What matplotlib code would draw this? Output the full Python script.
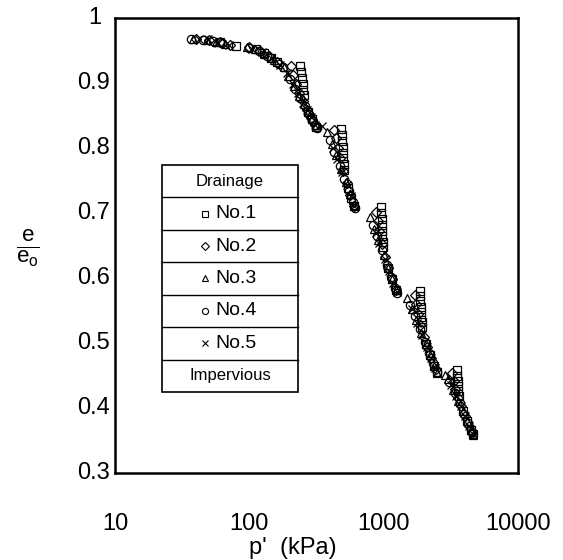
import matplotlib.pyplot as plt
from matplotlib.patches import Rectangle

plt.rcParams['font.family'] = ['Liberation Sans', 'DejaVu Sans']
plt.rcParams['mathtext.fontset'] = 'custom'
plt.rcParams['mathtext.rm'] = 'Liberation Sans'
plt.rcParams['mathtext.it'] = 'Liberation Sans'

# Normalised void ratio e/e0 against mean effective stress p' (kPa)
# for five drainage conditions under stepped loading.
p1 = [60, 80, 112, 128, 145, 160,
      240, 243, 246, 249, 252, 255, 275, 295, 315,
      485, 488, 491, 494, 497, 500, 503, 506, 540, 575, 605,
      955, 960, 965, 970, 975, 980, 985, 990, 1080, 1160, 1240,
      1860, 1870, 1880, 1890, 1900, 1910, 1920, 1930, 2060, 2220, 2380, 2480,
      3520, 3540, 3560, 3580, 3600, 3620, 3900, 4200, 4480, 4600]
r1 = [0.963, 0.957, 0.952, 0.946, 0.938, 0.932,
      0.926, 0.917, 0.908, 0.899, 0.890, 0.881, 0.855, 0.844, 0.833,
      0.829, 0.820, 0.811, 0.802, 0.793, 0.784, 0.775, 0.766, 0.739, 0.723, 0.711,
      0.709, 0.700, 0.691, 0.682, 0.673, 0.664, 0.655, 0.647, 0.616, 0.598, 0.581,
      0.580, 0.572, 0.564, 0.556, 0.548, 0.540, 0.532, 0.524, 0.498, 0.481, 0.465, 0.456,
      0.458, 0.450, 0.442, 0.434, 0.426, 0.418, 0.395, 0.380, 0.366, 0.360]

p2 = [40, 50, 60, 72, 100, 120, 140, 160,
      205, 212, 222, 235, 250, 270, 290, 310,
      430, 440, 455, 475, 500, 530, 565, 605,
      880, 900, 930, 970, 1020, 1080, 1160, 1240,
      1700, 1740, 1800, 1880, 1980, 2100, 2260, 2440,
      3250, 3320, 3420, 3560, 3750, 4050, 4350, 4580]
r2 = [0.967, 0.966, 0.963, 0.959, 0.955, 0.950, 0.941, 0.933,
      0.926, 0.912, 0.898, 0.885, 0.872, 0.858, 0.846, 0.836,
      0.828, 0.815, 0.800, 0.785, 0.765, 0.746, 0.728, 0.711,
      0.702, 0.688, 0.672, 0.653, 0.633, 0.616, 0.598, 0.581,
      0.574, 0.560, 0.545, 0.528, 0.510, 0.494, 0.477, 0.460,
      0.454, 0.442, 0.429, 0.415, 0.403, 0.388, 0.373, 0.361]

p3 = [38, 48, 56, 66, 96, 110, 128, 152,
      180, 195, 215, 235, 255, 275, 295, 312,
      380, 410, 440, 480, 520, 560, 600,
      792, 850, 910, 1000, 1080, 1160, 1240,
      1500, 1620, 1740, 1900, 2060, 2220, 2380, 2500,
      2880, 3000, 3300, 3600, 3900, 4200, 4480, 4630]
r3 = [0.967, 0.966, 0.963, 0.960, 0.955, 0.952, 0.945, 0.935,
      0.924, 0.911, 0.895, 0.880, 0.867, 0.855, 0.844, 0.835,
      0.824, 0.806, 0.789, 0.768, 0.748, 0.730, 0.713,
      0.694, 0.676, 0.659, 0.635, 0.616, 0.598, 0.581,
      0.570, 0.552, 0.536, 0.516, 0.498, 0.481, 0.465, 0.454,
      0.451, 0.444, 0.427, 0.411, 0.395, 0.380, 0.366, 0.358]

p4 = [37, 45, 54, 63, 100, 118, 135, 165,
      178, 200, 220, 240, 260, 280, 300, 320,
      400, 430, 470, 510, 550, 590, 612,
      830, 890, 970, 1060, 1140, 1220, 1260,
      1580, 1700, 1860, 2020, 2180, 2340, 2480,
      3075, 3375, 3675, 3975, 4275, 4530]
r4 = [0.968, 0.966, 0.964, 0.961, 0.954, 0.950, 0.942, 0.930,
      0.925, 0.906, 0.891, 0.877, 0.864, 0.852, 0.841, 0.831,
      0.812, 0.794, 0.773, 0.753, 0.734, 0.717, 0.708,
      0.682, 0.665, 0.643, 0.620, 0.602, 0.585, 0.577,
      0.558, 0.542, 0.521, 0.502, 0.485, 0.469, 0.456,
      0.440, 0.423, 0.407, 0.391, 0.377, 0.363]

p5 = [42, 49, 58, 70, 104, 124, 145, 170,
      190, 210, 230, 250, 270, 290, 310,
      345, 420, 450, 490, 530, 570, 605,
      870, 930, 1020, 1100, 1180, 1250,
      1620, 1780, 1940, 2100, 2260, 2420,
      3150, 3450, 3750, 4050, 4350, 4600]
r5 = [0.967, 0.968, 0.962, 0.958, 0.953, 0.947, 0.938, 0.928,
      0.915, 0.899, 0.884, 0.870, 0.858, 0.847, 0.836,
      0.834, 0.800, 0.783, 0.763, 0.743, 0.726, 0.711,
      0.670, 0.654, 0.630, 0.611, 0.593, 0.579,
      0.552, 0.531, 0.512, 0.494, 0.477, 0.461,
      0.436, 0.419, 0.403, 0.388, 0.373, 0.360]

names = ['No.1', 'No.2', 'No.3', 'No.4', 'No.5']
markers = ['s', 'D', '^', 'o', 'x']
x_ticks = [10, 100, 1000, 10000]
y_ticks = [0.3, 0.4, 0.5, 0.6, 0.7, 0.8, 0.9, 1.0]
y_labels = ['0.3', '0.4', '0.5', '0.6', '0.7', '0.8', '0.9', '1']

fig = plt.figure(figsize=(5.63, 5.60), dpi=100)
ax = fig.add_axes([115 / 563, 87 / 560, 403 / 563, 455 / 560])

data = [(p1, r1), (p2, r2), (p3, r3), (p4, r4), (p5, r5)]
for (p, r), m in zip(data, markers):
    ms = 5.0 if m == 'D' else 6.0
    ax.plot(p, r, ls='none', marker=m, ms=ms, mfc='none', mec='black', mew=0.9)

ax.set_xscale('log')
ax.set_xlim(10, 10000)
ax.set_ylim(0.3, 1.0)
ax.set_xticks(x_ticks)
ax.set_xticklabels([str(t) for t in x_ticks])
ax.xaxis.set_minor_locator(plt.NullLocator())
ax.set_yticks(y_ticks)
ax.tick_params(length=0, labelsize=17)
ax.tick_params(axis='x', pad=29)
ax.tick_params(axis='y', labelleft=False)
for s in ax.spines.values():
    s.set_linewidth(1.8)

# y tick labels drawn by hand so "1" can sit a little left
for y, lab in zip(y_ticks, y_labels):
    dx = -0.035 if lab == '1' else -0.012
    ax.text(dx, y, lab, transform=ax.get_yaxis_transform(), ha='right', va='center', fontsize=17)

ax.set_xlabel("p'  (kPa)", fontsize=17)
ax.xaxis.set_label_coords(0.44, -0.14)
fig.text(0.05, 0.556, r'$\frac{\mathrm{e}}{\mathrm{e_o}}$', fontsize=23, ha='center', va='center')

# legend drawn as a small table
rows = ['Drainage'] + names + ['Impervious']
row_markers = [None] + markers + [None]
x0, x1 = 0.117, 0.454
ytop, ybot = 0.677, 0.178
h = (ytop - ybot) / len(rows)
ax.add_patch(Rectangle((x0, ybot), x1 - x0, ytop - ybot, transform=ax.transAxes,
                       facecolor='white', edgecolor='black', lw=1.2, zorder=5))
for i in range(1, len(rows)):
    ax.plot([x0, x1], [ytop - i * h] * 2, transform=ax.transAxes, color='black', lw=1.0, zorder=6)
for i, (txt, m) in enumerate(zip(rows, row_markers)):
    yc = ytop - (i + 0.5) * h
    if m is None:
        ax.text((x0 + x1) / 2, yc, txt, transform=ax.transAxes, ha='center', va='center',
                fontsize=12, zorder=7)
    else:
        ax.plot([0.223], [yc], transform=ax.transAxes, ls='none', marker=m,
                ms=3.8 if m == 'D' else 4.4, mfc='none', mec='black', mew=0.8, zorder=7)
        ax.text(0.25, yc, txt, transform=ax.transAxes, ha='left', va='center',
                fontsize=14, zorder=7)

fig.savefig('out.png', dpi=100)
